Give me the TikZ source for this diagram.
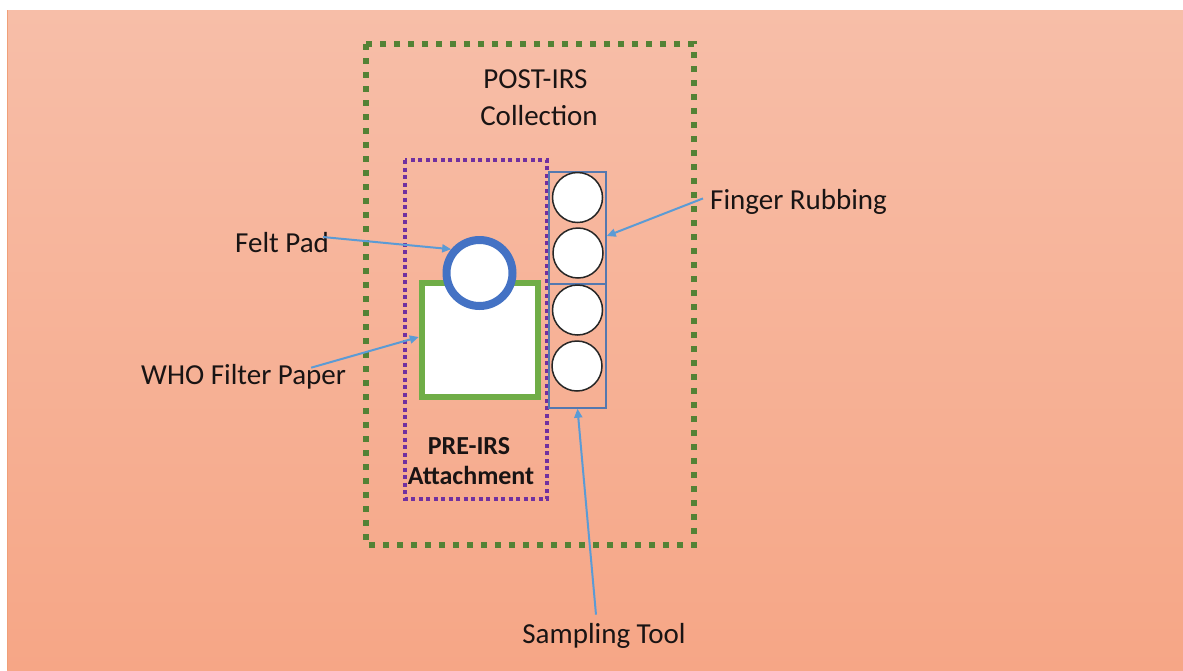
\documentclass[tikz,border=0pt]{standalone}
\usepackage{fontspec}
\setmainfont{Carlito}
\usetikzlibrary{arrows.meta}
\definecolor{bgtop}{RGB}{247,190,168}
\definecolor{bgbot}{RGB}{246,166,134}
\definecolor{bgedge}{RGB}{240,160,120}
\definecolor{postgreen}{RGB}{84,130,53}
\definecolor{prepurple}{RGB}{112,48,160}
\definecolor{padblue}{RGB}{68,114,196}
\definecolor{papergreen}{RGB}{112,173,71}
\definecolor{toolblue}{RGB}{84,120,175}
\definecolor{arrowblue}{RGB}{91,155,213}
\definecolor{txt}{RGB}{25,20,20}
\tikzset{
  lbl/.style={font=\fontsize{29}{34}\selectfont, text=txt, inner sep=0pt},
  blbl/.style={font=\fontsize{26}{30}\selectfont\bfseries, text=txt, inner sep=0pt},
  toolrect/.style={draw=toolblue, line width=1.4pt, minimum width=57pt, inner sep=0pt},
  swab/.style={circle, draw=black!85, line width=1.5pt, fill=white, minimum size=50pt, inner sep=0pt},
  arr/.style={draw=arrowblue, line width=2pt, -{Triangle[length=9pt,width=8pt]}},
}
\begin{document}
\begin{tikzpicture}[x=1pt,y=-1pt]
\useasboundingbox (0,0) rectangle (1183,670);
\fill[white] (0,0) rectangle (1183,670);
\shade[top color=bgtop,bottom color=bgbot] (7,10) rectangle (1183,670);
\draw[bgedge, line width=1.5pt] (7.5,10) -- (7.5,670);

% POST-IRS collection frame
\draw[postgreen, line width=6pt, dash pattern=on 6pt off 8pt] (366,44) rectangle (694,545);
% PRE-IRS attachment frame
\draw[prepurple, line width=4pt, dash pattern=on 4pt off 3.5pt] (405,160) rectangle (547,499);

% filter paper and felt pad
\node[draw=papergreen, fill=white, line width=6.5pt, minimum width=116pt, minimum height=114pt, inner sep=0pt] (paper) at (480,340) {};
\node[circle, draw=padblue, fill=white, line width=8pt, minimum size=66pt, inner sep=0pt] (pad) at (479.5,273) {};

% sampling tool
\node[toolrect, minimum height=112pt] (tooltop) at (577.5,228) {};
\node[toolrect, minimum height=124pt] (toolbot) at (577.5,346) {};
\node[swab] (s1) at (577.5,197.5) {};
\node[swab] (s2) at (578,253) {};
\node[swab] (s3) at (577.5,310) {};
\node[swab] (s4) at (577,366) {};

% texts
\node[lbl, anchor=base] (post1) at (535.5,88) {POST-IRS};
\node[lbl, anchor=base] (post2) at (539,125) {Collection};
\node[blbl, anchor=base] (pre1) at (469,454) {PRE-IRS};
\node[blbl, anchor=base] (pre2) at (471,484) {Attachment};
\node[lbl, anchor=base west] (felt) at (235,252) {Felt Pad};
\node[lbl, anchor=base west] (who) at (141,384) {WHO Filter Paper};
\node[lbl, anchor=base west] (finger) at (710,209) {Finger Rubbing};
\node[lbl, anchor=base] (sampling) at (604,643) {Sampling Tool};

% connectors
\draw[arr] ([shift={(-6,-5)}]felt.east) -- (pad.140);
\draw[arr] ([shift={(-35,4)}]who.north east) -- ([shift={(0,-3)}]paper.west);
\draw[arr] ([shift={(-7,-3)}]finger.west) -- ([shift={(0,8)}]tooltop.east);
\draw[arr] ([shift={(-8,-8)}]sampling.north) -- (toolbot.south);
\end{tikzpicture}
\end{document}
